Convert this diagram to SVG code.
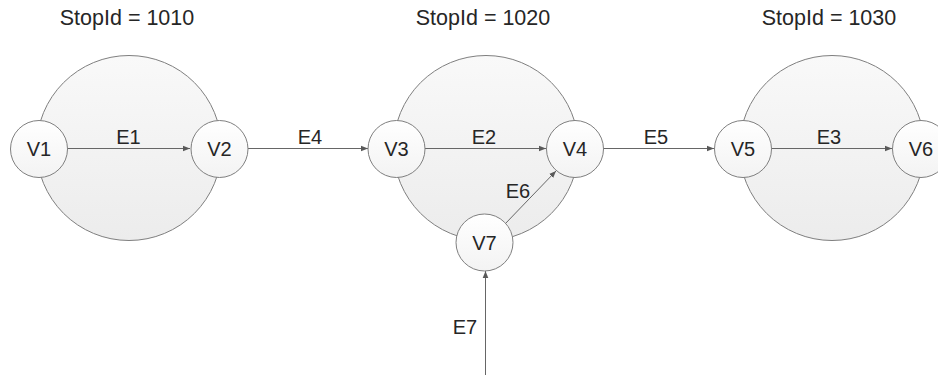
<svg xmlns="http://www.w3.org/2000/svg" width="938" height="377" viewBox="0 0 938 377">
  <defs>
    <linearGradient id="bigFill" x1="0" y1="0" x2="0" y2="1">
      <stop offset="0" stop-color="#f9f9f9"/>
      <stop offset="1" stop-color="#ececec"/>
    </linearGradient>
    <linearGradient id="smallFill" x1="0" y1="0" x2="0" y2="1">
      <stop offset="0" stop-color="#ffffff"/>
      <stop offset="1" stop-color="#f3f3f3"/>
    </linearGradient>
    <marker id="arrow" viewBox="0 0 10 10" refX="10" refY="5" markerWidth="7" markerHeight="7" markerUnits="userSpaceOnUse" orient="auto">
      <path d="M0,1 L10,5 L0,9 Z" fill="#595959"/>
    </marker>
  </defs>
  <style>
    .stop { fill: url(#bigFill); stroke: #7f7f7f; stroke-width: 1; }
    .node { fill: url(#smallFill); stroke: #7f7f7f; stroke-width: 1; }
    .edge { stroke: #666666; stroke-width: 1; fill: none; marker-end: url(#arrow); }
    .lbl { font-family: "Liberation Sans", Arial, sans-serif; font-size: 20px; fill: #262626; text-anchor: middle; }
    .title { font-family: "Liberation Sans", Arial, sans-serif; font-size: 21.5px; fill: #262626; text-anchor: middle; }
  </style>

  <g id="stop1010">
    <circle class="stop" cx="129" cy="148" r="92.5"/>
    <text class="title" x="127" y="25">StopId = 1010</text>
  </g>
  <g id="stop1020">
    <circle class="stop" cx="486" cy="148" r="92.5"/>
    <text class="title" x="483" y="25">StopId = 1020</text>
  </g>
  <g id="stop1030">
    <circle class="stop" cx="832" cy="148" r="92.5"/>
    <text class="title" x="829" y="25">StopId = 1030</text>
  </g>

  <g id="connectors">
    <g id="E1">
      <line class="edge" x1="68" y1="148.5" x2="190" y2="148.5"/>
      <text class="lbl" x="128.5" y="144">E1</text>
    </g>
    <g id="E4">
      <line class="edge" x1="248" y1="148.5" x2="368" y2="148.5"/>
      <text class="lbl" x="310" y="144">E4</text>
    </g>
    <g id="E2">
      <line class="edge" x1="425" y1="148.5" x2="546" y2="148.5"/>
      <text class="lbl" x="484" y="144">E2</text>
    </g>
    <g id="E5">
      <line class="edge" x1="603" y1="148.5" x2="714" y2="148.5"/>
      <text class="lbl" x="656" y="144">E5</text>
    </g>
    <g id="E3">
      <line class="edge" x1="772" y1="148.5" x2="892" y2="148.5"/>
      <text class="lbl" x="829" y="144">E3</text>
    </g>
    <g id="E6">
      <line class="edge" x1="505" y1="224" x2="556" y2="171"/>
      <text class="lbl" x="518" y="198">E6</text>
    </g>
    <g id="E7">
      <line class="edge" x1="485.5" y1="375" x2="485.5" y2="271"/>
      <text class="lbl" x="465" y="334">E7</text>
    </g>
  </g>

  <g id="V1">
    <circle class="node" cx="39" cy="149" r="28.5"/>
    <text class="lbl" x="39" y="156">V1</text>
  </g>
  <g id="V2">
    <circle class="node" cx="219.5" cy="149" r="28.5"/>
    <text class="lbl" x="219.5" y="156">V2</text>
  </g>
  <g id="V3">
    <circle class="node" cx="396.5" cy="149" r="28.5"/>
    <text class="lbl" x="396.5" y="156">V3</text>
  </g>
  <g id="V4">
    <circle class="node" cx="575" cy="149" r="28.5"/>
    <text class="lbl" x="575" y="156">V4</text>
  </g>
  <g id="V5">
    <circle class="node" cx="743" cy="149" r="28.5"/>
    <text class="lbl" x="743" y="156">V5</text>
  </g>
  <g id="V6">
    <circle class="node" cx="921" cy="149" r="28.5"/>
    <text class="lbl" x="921" y="156">V6</text>
  </g>
  <g id="V7">
    <circle class="node" cx="484.5" cy="242.5" r="28.5"/>
    <text class="lbl" x="484.5" y="249.5">V7</text>
  </g>
</svg>
